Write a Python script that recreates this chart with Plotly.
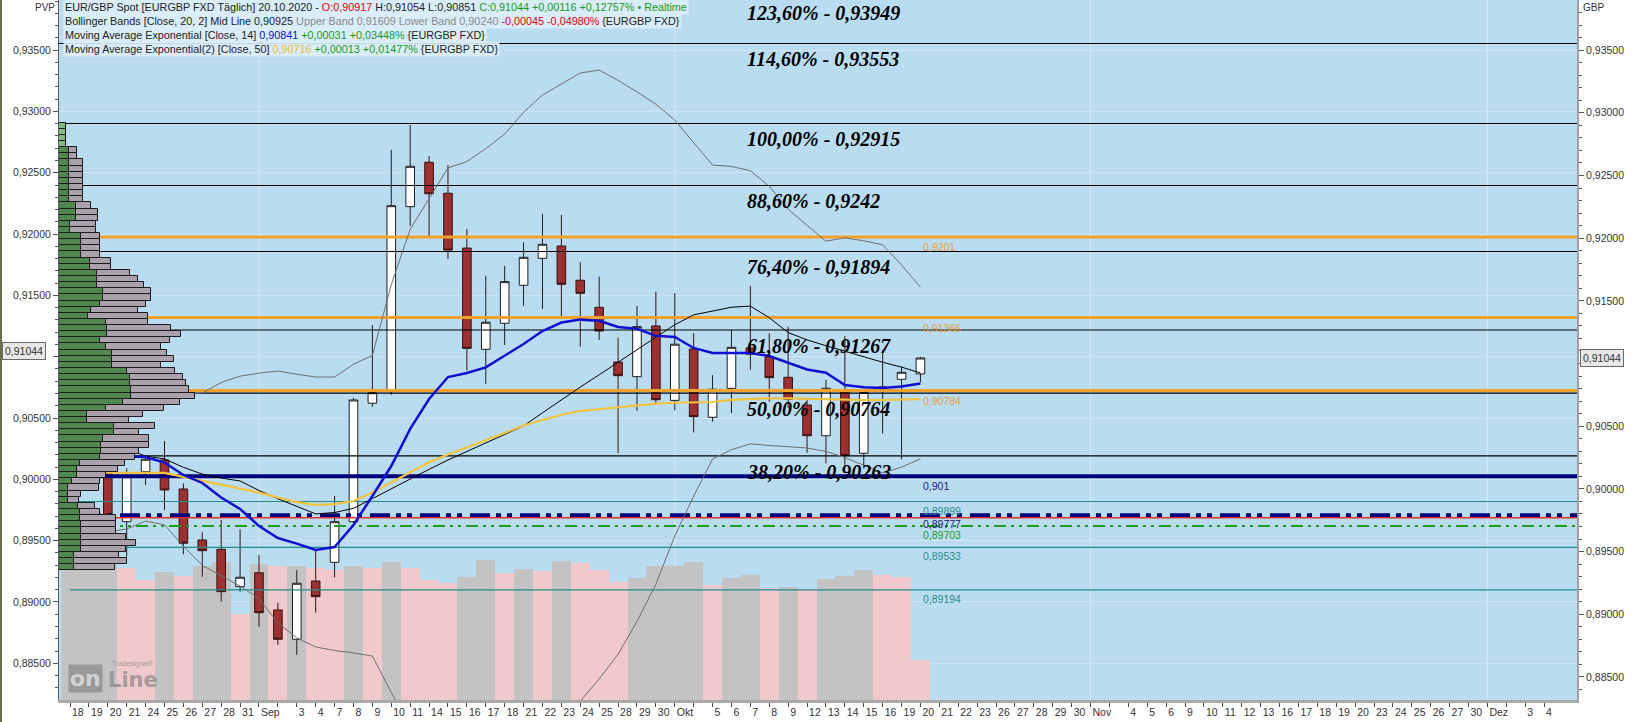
import plotly.graph_objects as go

# ---------------- data ----------------
day_labels = ["18", "19", "20", "21", "24", "25", "26", "27", "28", "31",
              "Sep", "", "3", "4", "7", "8", "9", "10", "11", "14", "15", "16", "17", "18",
              "21", "22", "23", "24", "25", "28", "29", "30",
              "Okt", "", "5", "6", "7", "8", "9", "12", "13", "14", "15", "16", "19", "20",
              "21", "22", "23", "26", "27", "28", "29", "30",
              "Nov", "", "4", "5", "6", "9", "10", "11", "12", "13", "16", "17", "18", "19", "20",
              "23", "24", "25", "26", "27", "30",
              "Dez", "", "3", "4"]

open_px = [0.90603, 0.90137, 0.90403, 0.89738, 0.90137, 0.90230, 0.89999, 0.89592, 0.89518, 0.89220,
           0.89331, 0.89034, 0.88800, 0.89265, 0.89414, 0.89738, 0.90683, 0.90781, 0.92251, 0.92605,
           0.92358, 0.91921, 0.91113, 0.91321, 0.91624, 0.91839, 0.91937, 0.91664, 0.91448, 0.91012,
           0.90895, 0.91299, 0.90706, 0.91116, 0.90571, 0.90802, 0.91124, 0.91053, 0.90890, 0.90669,
           0.90424, 0.90789, 0.90284, 0.90805, 0.90874, 0.90917]
high_px = [0.90621, 0.90414, 0.90695, 0.90164, 0.90254, 0.90382, 0.90044, 0.89654, 0.89752, 0.89678,
           0.89472, 0.89092, 0.89353, 0.89512, 0.89943, 0.90725, 0.91307, 0.92703, 0.92903, 0.92655,
           0.92583, 0.92073, 0.91700, 0.91780, 0.91967, 0.92193, 0.92185, 0.91807, 0.91692, 0.91207,
           0.91459, 0.91573, 0.91562, 0.91243, 0.90907, 0.91267, 0.91618, 0.91241, 0.91294, 0.90723,
           0.90869, 0.91219, 0.90789, 0.91108, 0.90975, 0.91054]
low_px = [0.90119, 0.90031, 0.89725, 0.89459, 0.90031, 0.89831, 0.89478, 0.89299, 0.89100, 0.89180,
          0.88900, 0.88755, 0.88675, 0.89012, 0.89295, 0.89712, 0.90655, 0.90749, 0.92097, 0.92017,
          0.91834, 0.90943, 0.90836, 0.91148, 0.91461, 0.91435, 0.91374, 0.91134, 0.91187, 0.90284,
          0.90623, 0.90679, 0.90627, 0.90450, 0.90536, 0.90605, 0.90951, 0.90695, 0.90643, 0.90289,
          0.90204, 0.90182, 0.90177, 0.90443, 0.90236, 0.90851]
close_px = [0.90137, 0.90395, 0.89765, 0.90097, 0.90236, 0.89991, 0.89566, 0.89507, 0.89180, 0.89295,
            0.89012, 0.88800, 0.89247, 0.89140, 0.89738, 0.90709, 0.90767, 0.92259, 0.92573, 0.92354,
            0.91905, 0.91121, 0.91329, 0.91653, 0.91847, 0.91951, 0.91632, 0.91560, 0.91259, 0.90903,
            0.91294, 0.90711, 0.91154, 0.90576, 0.90795, 0.91129, 0.91074, 0.90887, 0.90714, 0.90424,
            0.90802, 0.90265, 0.90769, 0.90812, 0.90930, 0.91044]

ema14 = [0.90350, 0.90350, 0.90270, 0.90258, 0.90254, 0.90210, 0.90111, 0.90047, 0.89931, 0.89839,
         0.89704, 0.89608, 0.89563, 0.89512, 0.89536, 0.89712, 0.89943, 0.90182, 0.90478, 0.90717,
         0.90892, 0.90924, 0.90969, 0.91060, 0.91156, 0.91259, 0.91327, 0.91350, 0.91341, 0.91291,
         0.91277, 0.91221, 0.91212, 0.91124, 0.91084, 0.91084, 0.91084, 0.91060, 0.91004, 0.90952,
         0.90927, 0.90829, 0.90810, 0.90805, 0.90817, 0.90841]
ema50 = [0.90134, 0.90131, 0.90127, 0.90127, 0.90127, 0.90127, 0.90096, 0.90064, 0.90032, 0.89998,
         0.89970, 0.89931, 0.89894, 0.89872, 0.89879, 0.89903, 0.89970, 0.90051, 0.90132, 0.90213,
         0.90274, 0.90330, 0.90387, 0.90446, 0.90505, 0.90548, 0.90591, 0.90621, 0.90637, 0.90653,
         0.90667, 0.90680, 0.90687, 0.90690, 0.90693, 0.90710, 0.90719, 0.90723, 0.90722, 0.90718,
         0.90714, 0.90710, 0.90709, 0.90709, 0.90713, 0.90716]
bb_mid = [0.90486, 0.90436, 0.90382, 0.90320, 0.90261, 0.90239, 0.90172, 0.90118, 0.90086, 0.90063,
          0.89987, 0.89921, 0.89859, 0.89800, 0.89811, 0.89845, 0.89922, 0.90001, 0.90078, 0.90156,
          0.90230, 0.90299, 0.90367, 0.90435, 0.90502, 0.90607, 0.90712, 0.90812, 0.90910, 0.91009,
          0.91107, 0.91205, 0.91309, 0.91388, 0.91421, 0.91449, 0.91458, 0.91365, 0.91247, 0.91188,
          0.91142, 0.91097, 0.91050, 0.91010, 0.90971, 0.90925]
bb_upper = [0.91235, 0.91148, 0.91048, 0.90948, 0.90837, 0.90774, 0.90754, 0.90765, 0.90848, 0.90899,
            0.90923, 0.90940, 0.90914, 0.90892, 0.90892, 0.90994, 0.91064, 0.91629, 0.92070, 0.92314,
            0.92560, 0.92611, 0.92714, 0.92830, 0.93004, 0.93142, 0.93230, 0.93317, 0.93341, 0.93258,
            0.93167, 0.93069, 0.92941, 0.92764, 0.92583, 0.92572, 0.92538, 0.92414, 0.92231, 0.92102,
            0.91976, 0.92002, 0.91979, 0.91947, 0.91786, 0.91609]
bb_lower = [0.89736, 0.89696, 0.89656, 0.89680, 0.89743, 0.89713, 0.89543, 0.89390, 0.89308, 0.89224,
            0.89124, 0.88931, 0.88811, 0.88739, 0.88710, 0.88692, 0.88666, 0.88372, 0.88086, 0.87998,
            0.87901, 0.87986, 0.88019, 0.88039, 0.88001, 0.88072, 0.88195, 0.88307, 0.88483, 0.88681,
            0.88942, 0.89239, 0.89624, 0.89942, 0.90238, 0.90312, 0.90359, 0.90346, 0.90333, 0.90326,
            0.90299, 0.90250, 0.90188, 0.90127, 0.90173, 0.90240]

volume = [134, 138, 138, 132, 120, 128, 124, 134, 138, 86,
          136, 134, 134, 132, 130, 134, 132, 138, 132, 120,
          117, 123, 140, 127, 131, 129, 139, 137, 130, 118,
          122, 134, 134, 138, 115, 122, 125, 112, 113, 111,
          121, 124, 130, 125, 123, 40]
volume_kind = "GGGPPGPGGP" "GPGPPGPGPP" "PGGPGPGPPP" "GGGGPGGPGP" "GGGPPP"

# price volume profile (left PVP scale), rows of 0.0005 from the top edge down
pvp_top = 0.92908
pvp_step = 0.0005
pvp_buy = [7, 7, 7, 7, 10, 10, 10, 10, 10, 10,
           10, 10, 10, 17, 17, 17, 11, 11, 22, 22,
           22, 22, 31, 31, 38, 38, 38, 44, 44, 41,
           32, 29, 47, 48, 48, 41, 47, 53, 53, 53,
           68, 71, 71, 72, 72, 64, 47, 28, 28, 55,
           55, 44, 42, 42, 41, 21, 18, 18, 13, 9,
           9, 9, 19, 21, 21, 22, 22, 22, 22, 22,
           15, 15, 15]
pvp_total = [7, 7, 7, 7, 18, 18, 24, 24, 24, 24,
             24, 24, 24, 32, 39, 39, 37, 37, 41, 41,
             41, 41, 52, 52, 71, 79, 85, 92, 92, 87,
             79, 89, 89, 112, 122, 111, 102, 108, 115, 102,
             116, 124, 127, 130, 136, 121, 105, 84, 70, 96,
             80, 90, 90, 80, 76, 66, 59, 47, 41, 40,
             22, 20, 36, 41, 57, 57, 57, 67, 77, 67,
             60, 68, 56]

fib_levels = [0.93949, 0.93553, 0.92915, 0.9242, 0.91894, 0.91267, 0.90764, 0.90263]
fib_pcts = ["123,60%", "114,60%", "100,00%", "88,60%", "76,40%", "61,80%", "50,00%", "38,20%"]
fib_values = ["0,93949", "0,93553", "0,92915", "0,9242", "0,91894", "0,91267", "0,90764", "0,90263"]

orange_levels = [0.9201, 0.91366, 0.90784]
orange_texts = ["0,9201", "0,91366", "0,90784"]
navy_level = 0.901
teal_levels = [0.89899, 0.89533, 0.89194]
teal_texts = ["0,89899", "0,89533", "0,89194"]
navy_dash_level = 0.89790
red_level = 0.89770
green_dash_level = 0.89703

axis_ticks = [0.885, 0.890, 0.895, 0.900, 0.905, 0.910, 0.915, 0.920, 0.925, 0.930, 0.935]
axis_tick_text = ["0,88500", "0,89000", "0,89500", "0,90000", "0,90500", "",
                  "0,91500", "0,92000", "0,92500", "0,93000", "0,93500"]

# ---------------- figure ----------------
W, H = 1638, 722
ML, MR, MT, MB = 59, 61, 0, 22
PW = W - ML - MR
PH = H - MT - MB
XMIN, XMAX = -0.582, 79.74
Y3 = [0.883157, 0.938997]
Y2 = [0.882007, 0.939085]

n = len(close_px)
slots = list(range(n))

fig = go.Figure()

# volume in the background (base subplot)
vol_colors = ["#c3c3c3" if k == "G" else "#f1c9cd" for k in volume_kind]
fig.add_trace(go.Bar(x=slots, y=volume, width=1.0, xaxis="x", yaxis="y",
                     marker=dict(color=vol_colors, line=dict(width=0)), hoverinfo="skip"))

# price volume profile
pvp_centers = [pvp_top - pvp_step * (i + 0.5) for i in range(len(pvp_buy))]
green_cols = ["#84bb84" if i < 4 else "#4f874f" for i in range(len(pvp_buy))]
fig.add_trace(go.Bar(y=pvp_centers, x=pvp_buy, base=0, orientation="h", width=pvp_step,
                     xaxis="x2", yaxis="y2",
                     marker=dict(color=green_cols, line=dict(color="#1c1c1c", width=1)),
                     hoverinfo="skip"))
fig.add_trace(go.Bar(y=pvp_centers, x=[t - b for t, b in zip(pvp_total, pvp_buy)], base=pvp_buy,
                     orientation="h", width=pvp_step, xaxis="x2", yaxis="y2",
                     marker=dict(color="#aba1ad", line=dict(color="#1c1c1c", width=1)),
                     hoverinfo="skip"))

# candles
fig.add_trace(go.Candlestick(x=slots, open=open_px, high=high_px, low=low_px, close=close_px,
                             xaxis="x", yaxis="y3", whiskerwidth=0,
                             increasing=dict(fillcolor="#ffffff", line=dict(color="#1e1e1e", width=1)),
                             decreasing=dict(fillcolor="#9b3131", line=dict(color="#3a1010", width=1)),
                             hoverinfo="skip"))


def hline(level, color, width, dash="solid", start=XMIN):
    fig.add_trace(go.Scatter(x=[start, XMAX], y=[level, level], mode="lines", xaxis="x", yaxis="y3",
                             line=dict(color=color, width=width, dash=dash), hoverinfo="skip"))


for lv in fib_levels:
    hline(lv, "#000000", 1.1)
for lv in orange_levels:
    hline(lv, "#f0a22e", 3, start=0)
for lv in teal_levels:
    hline(lv, "#238c8c", 1.1, start=0)
hline(navy_level, "#00007c", 4)
hline(navy_dash_level, "#00007c", 4, dash="20px,6px,5px,6px,5px,8px", start=0)
hline(red_level, "#e23232", 1.5, start=0)
hline(green_dash_level, "#1e9e1e", 2, dash="12px,5px,3px,5px,3px,5px", start=0)

# indicators
fig.add_trace(go.Scatter(x=slots, y=bb_upper, mode="lines", xaxis="x", yaxis="y3",
                         line=dict(color="#6e6e6e", width=1), hoverinfo="skip"))
fig.add_trace(go.Scatter(x=slots, y=bb_lower, mode="lines", xaxis="x", yaxis="y3",
                         line=dict(color="#6e6e6e", width=1), hoverinfo="skip"))
fig.add_trace(go.Scatter(x=slots, y=bb_mid, mode="lines", xaxis="x", yaxis="y3",
                         line=dict(color="#000000", width=1), hoverinfo="skip"))
fig.add_trace(go.Scatter(x=slots, y=ema50, mode="lines", xaxis="x", yaxis="y3",
                         line=dict(color="#f2c43e", width=2.2), hoverinfo="skip"))
fig.add_trace(go.Scatter(x=slots, y=ema14, mode="lines", xaxis="x", yaxis="y3",
                         line=dict(color="#1010d2", width=2.5), hoverinfo="skip"))


def px_x(p):
    return (p - ML) / PW


def px_y(p):
    return (PH - p) / PH


annotations = []
# fibonacci labels
fib_font = dict(family="Liberation Serif", size=20, color="#000000")
for lv, pct, val in zip(fib_levels, fib_pcts, fib_values):
    txt = f"<b><i>{pct} - {val}</i></b>"
    if lv > Y3[1]:
        annotations.append(dict(x=35.72, y=px_y(12.5), xref="x", yref="paper", xanchor="left",
                                yanchor="middle", showarrow=False, text=txt, font=fib_font))
    else:
        annotations.append(dict(x=35.72, y=lv, xref="x", yref="y3", xanchor="left", yanchor="middle",
                                yshift=-16, showarrow=False, text=txt, font=fib_font))

# level labels next to the last bar
lab_x = 45.03
small = dict(family="Liberation Sans", size=10.5)
for lv, t in zip(orange_levels, orange_texts):
    annotations.append(dict(x=lab_x, y=lv, xref="x", yref="y3", xanchor="left", yanchor="middle",
                            yshift=-10, showarrow=False, text=t, font=dict(small, color="#e3a03a")))
annotations.append(dict(x=lab_x, y=navy_level, xref="x", yref="y3", xanchor="left", yanchor="middle",
                        yshift=-10, showarrow=False, text="0,901", font=dict(small, color="#1a1a7a")))
for lv, t in zip(teal_levels, teal_texts):
    annotations.append(dict(x=lab_x, y=lv, xref="x", yref="y3", xanchor="left", yanchor="middle",
                            yshift=-9, showarrow=False, text=t, font=dict(small, color="#2a8c8c")))
annotations.append(dict(x=lab_x, y=navy_dash_level, xref="x", yref="y3", xanchor="left",
                        yanchor="middle", yshift=-9, showarrow=False, text="0,89777",
                        font=dict(small, color="#1a1a6a")))
annotations.append(dict(x=lab_x, y=green_dash_level, xref="x", yref="y3", xanchor="left",
                        yanchor="middle", yshift=-9, showarrow=False, text="0,89703",
                        font=dict(small, color="#1e9e1e")))

# header lines
hdr = [
    '<span style="color:#222">EUR/GBP Spot [EURGBP FXD Täglich] 20.10.2020 - </span>'
    '<span style="color:#e00000">O:0,90917</span>'
    '<span style="color:#222"> H:0,91054 L:0,90851 </span>'
    '<span style="color:#189a18">C:0,91044 +0,00116 +0,12757% • Realtime</span>',
    '<span style="color:#222">Bollinger Bands [Close, 20, 2] Mid Line 0,90925</span>'
    '<span style="color:#8a8a8a"> Upper Band 0,91609 Lower Band 0,90240</span>'
    '<span style="color:#e00000"> -0,00045 -0,04980%</span>'
    '<span style="color:#222"> {EURGBP FXD}</span>',
    '<span style="color:#222">Moving Average Exponential [Close, 14] </span>'
    '<span style="color:#1010c8">0,90841</span>'
    '<span style="color:#189a18"> +0,00031 +0,03448%</span>'
    '<span style="color:#222"> {EURGBP FXD}</span>',
    '<span style="color:#222">Moving Average Exponential(2) [Close, 50] </span>'
    '<span style="color:#e8b830">0,90716</span>'
    '<span style="color:#189a18"> +0,00013 +0,01477%</span>'
    '<span style="color:#222"> {EURGBP FXD}</span>',
]
for i, t in enumerate(hdr):
    annotations.append(dict(x=px_x(63), y=px_y(6.7 + 14.2 * i), xref="paper", yref="paper",
                            xanchor="left", yanchor="middle", showarrow=False, text=t,
                            bgcolor="rgba(220,238,250,0.9)", borderpad=1,
                            font=dict(family="Liberation Sans", size=10.8)))

# current price markers
annotations.append(dict(x=px_x(1580), y=close_px[-1], xref="paper", yref="y3", xanchor="left",
                        yanchor="middle", showarrow=False, text="0,91044", bgcolor="#e8e8e8",
                        bordercolor="#6a6a6a", borderwidth=1, borderpad=2,
                        font=dict(family="Liberation Sans", size=10.5, color="#333")))
annotations.append(dict(x=px_x(2), y=close_px[-1], xref="paper", yref="y2", xanchor="left",
                        yanchor="middle", showarrow=False, text="0,91044", bgcolor="#e8e8e8",
                        bordercolor="#6a6a6a", borderwidth=1, borderpad=2,
                        font=dict(family="Liberation Sans", size=10.5, color="#333")))
annotations.append(dict(x=px_x(1581), y=px_y(7), xref="paper", yref="paper", xanchor="left",
                        yanchor="middle", showarrow=False, text="GBP",
                        font=dict(family="Liberation Sans", size=10, color="#333")))
annotations.append(dict(x=px_x(33), y=px_y(7), xref="paper", yref="paper", xanchor="left",
                        yanchor="middle", showarrow=False, text="PVP",
                        font=dict(family="Liberation Sans", size=10, color="#333")))

# watermark
annotations.append(dict(x=px_x(68), y=px_y(678), xref="paper", yref="paper", xanchor="left",
                        yanchor="middle", showarrow=False, text="<b>on</b>", bgcolor="#8c8c8c",
                        borderpad=1, opacity=0.75,
                        font=dict(family="DejaVu Sans", size=22, color="#d8d8d8")))
annotations.append(dict(x=px_x(106), y=px_y(680), xref="paper", yref="paper", xanchor="left",
                        yanchor="middle", showarrow=False, text="<b>Line</b>", opacity=0.75,
                        font=dict(family="DejaVu Sans", size=21, color="#8c8c8c")))
annotations.append(dict(x=px_x(110), y=px_y(664), xref="paper", yref="paper", xanchor="left",
                        yanchor="middle", showarrow=False, text="Tradesignal®", opacity=0.75,
                        font=dict(family="Liberation Sans", size=7, color="#8c8c8c")))

shapes = []
for s in [10, 32, 54, 75]:
    shapes.append(dict(type="line", xref="x", yref="paper", x0=s, x1=s, y0=0, y1=1,
                       line=dict(color="rgba(215,236,248,0.9)", width=1), layer="below"))
shapes.append(dict(type="line", xref="paper", yref="paper", x0=px_x(1), x1=px_x(1),
                   y0=-MB / PH, y1=1, line=dict(color="#6b6b4e", width=2)))

tickfont = dict(family="Liberation Sans", size=10.5, color="#333")
price_axis = dict(tickmode="array", tickvals=axis_ticks, ticktext=axis_tick_text,
                  ticks="outside", ticklen=5, tickcolor="#555", tickfont=tickfont,
                  zeroline=False, automargin=False,
                  minor=dict(dtick=0.001, tick0=0.885, ticks="outside", ticklen=3,
                             tickcolor="#555", showgrid=False))
fig.update_layout(
    template="none",
    width=W, height=H, margin=dict(l=ML, r=MR, t=MT, b=MB, pad=0, autoexpand=False),
    paper_bgcolor="#ffffff", plot_bgcolor="#badcf0",
    showlegend=False, barmode="overlay", bargap=0, boxgap=0.35,
    separators=",.",
    font=dict(family="Liberation Sans", size=10.5, color="#333"),
    xaxis=dict(range=[XMIN, XMAX], tickmode="array", tickvals=list(range(len(day_labels))),
               ticktext=day_labels, tickangle=0, ticks="outside", ticklen=4, tickcolor="#444",
               ticklabelposition="outside right", tickfont=tickfont, automargin=False,
               showgrid=False, zeroline=False, showline=True, linecolor="#a8a8a8", linewidth=3,
               rangeslider=dict(visible=False), fixedrange=True),
    yaxis=dict(range=[0, PH], visible=False, fixedrange=True, automargin=False,
               showgrid=False, zeroline=False),
    xaxis2=dict(overlaying="x", range=[0, PW], visible=False, fixedrange=True, automargin=False,
                showgrid=False, zeroline=False),
    yaxis2=dict(price_axis, overlaying="y", side="left", anchor="x", range=Y2,
                showgrid=True, gridcolor="#cce6f5", gridwidth=1,
                showline=True, linecolor="#5e5466", linewidth=1),
    yaxis3=dict(price_axis, overlaying="y", side="right", anchor="x", range=Y3,
                showgrid=False, showline=True, linecolor="#a0a0a0", linewidth=2),
    annotations=annotations,
    shapes=shapes,
)

fig.write_html("out.html", config={"displayModeBar": False},
               post_script="document.body.style.margin='0px';document.body.style.overflow='hidden';")
